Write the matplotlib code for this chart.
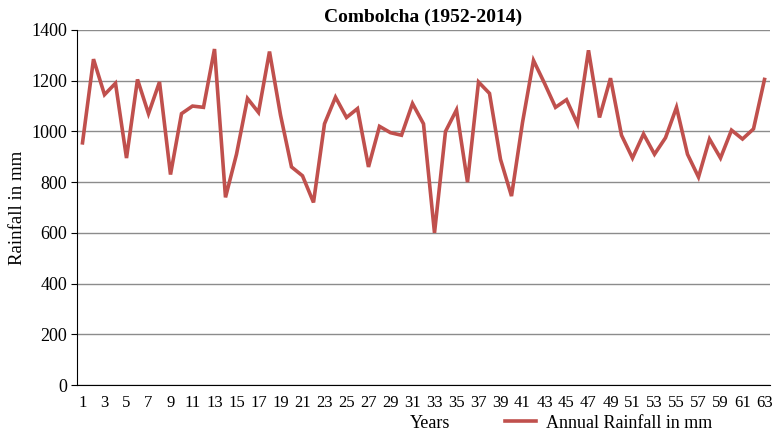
import matplotlib.pyplot as plt

plt.rcParams['font.family'] = ['Liberation Serif', 'DejaVu Serif']

years = list(range(1, 64))
rainfall = [955, 1285, 1145, 1190, 895, 1205, 1070, 1195, 830, 1070,
            1100, 1095, 1325, 740, 910, 1130, 1075, 1315, 1065, 860,
            825, 720, 1030, 1135, 1055, 1090, 860, 1020, 995, 985,
            1110, 1030, 600, 1000, 1085, 800, 1195, 1150, 890, 745,
            1035, 1280, 1190, 1095, 1125, 1030, 1320, 1055, 1210, 985,
            895, 990, 910, 975, 1095, 910, 820, 970, 895, 1005,
            970, 1010, 1205]
tick_labels = [str(y) for y in years[::2]]

fig = plt.figure(figsize=(7.77, 4.33), dpi=100)
ax = fig.add_axes([77/777, 1 - 385/433, (770-77)/777, (385-30)/433])

ax.plot(years, rainfall, color='#C0504D', lw=2.6, solid_joinstyle='miter',
        label='Annual Rainfall in mm')

ax.set_xlim(0.5, 63.5)
ax.set_ylim(0, 1400)
ax.set_yticks(range(0, 1401, 200))
ax.set_xticks(years[::2])
ax.set_xticklabels(tick_labels)
ax.grid(axis='y', color='#8c8c8c', lw=1)
ax.set_axisbelow(True)
for s in ['top', 'right']:
    ax.spines[s].set_visible(False)
ax.spines['left'].set_color('black')
ax.spines['bottom'].set_color('black')
ax.tick_params(axis='x', length=0, labelsize=12, pad=7)
ax.tick_params(axis='y', length=4, labelsize=13, pad=3)

ax.set_ylabel('Rainfall in mm', fontsize=13.5, labelpad=4)
ax.set_title('Combolcha (1952-2014)', fontsize=14, fontweight='bold', pad=6)

fig.text(430/777, 1 - 423/433, 'Years', fontsize=13, ha='center', va='center')
ax.legend(loc='center left', bbox_to_anchor=(505/777, 1 - 423/433),
          bbox_transform=fig.transFigure, frameon=False, fontsize=13,
          handlelength=1.7, handletextpad=0.55, borderaxespad=0, borderpad=0)

fig.savefig('out.png', dpi=100)
